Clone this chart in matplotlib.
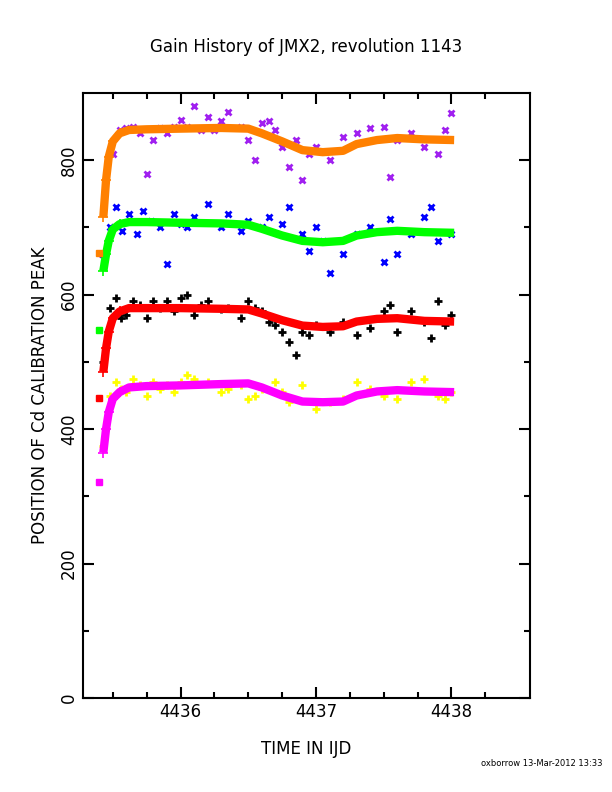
import matplotlib
matplotlib.use("Agg")
from matplotlib import pyplot as plt

# smooth fitted curves (time, value)
fit_t = [4435.43, 4435.45, 4435.47, 4435.50, 4435.55, 4435.62, 4435.75, 4436.0, 4436.3,
         4436.5, 4436.6, 4436.75, 4436.9, 4437.05, 4437.2, 4437.3, 4437.45, 4437.6, 4437.8, 4438.02]
orange = [715, 770, 805, 828, 840, 845, 846, 847, 848, 847, 840, 828, 815, 812, 814, 824, 830, 833, 831, 830]
green = [635, 660, 680, 697, 705, 708, 708, 707, 706, 704, 698, 688, 680, 678, 680, 688, 693, 695, 693, 692]
red = [485, 520, 545, 565, 575, 580, 580, 580, 579, 578, 572, 562, 554, 552, 553, 560, 564, 565, 561, 560]
magenta = [365, 400, 425, 445, 455, 462, 464, 465, 467, 468, 462, 450, 441, 440, 441, 450, 456, 458, 456, 455]

# isolated first points
first_t = [4435.40, 4435.40, 4435.40, 4435.40]
first_v = [322, 447, 548, 662]
first_c = ['magenta', 'red', '#00ff00', '#ff8000']

# raw measurements
purple_t = [4435.42, 4435.5, 4435.55, 4435.6, 4435.65, 4435.7, 4435.75, 4435.8, 4435.85, 4435.9, 4435.95, 4436.0,
            4436.05, 4436.1, 4436.15, 4436.2, 4436.25, 4436.3, 4436.35, 4436.45, 4436.5, 4436.55, 4436.6,
            4436.65, 4436.7, 4436.75, 4436.8, 4436.85, 4436.9, 4436.95, 4437.0, 4437.1, 4437.2, 4437.3,
            4437.4, 4437.5, 4437.55, 4437.6, 4437.7, 4437.8, 4437.9, 4437.95, 4438.0]
purple = [660, 810, 845, 848, 850, 840, 780, 830, 848, 840, 850, 860, 850, 880, 845, 865, 845, 858, 872, 850,
          830, 800, 855, 858, 845, 820, 790, 830, 770, 810, 820, 800, 835, 840, 848, 850, 775, 830, 840, 820,
          810, 845, 870]
blue_t = [4435.43, 4435.48, 4435.52, 4435.57, 4435.62, 4435.68, 4435.72, 4435.78, 4435.85, 4435.9, 4435.95,
          4436.0, 4436.05, 4436.1, 4436.2, 4436.3, 4436.35, 4436.45, 4436.5, 4436.6, 4436.65, 4436.75,
          4436.8, 4436.9, 4436.95, 4437.0, 4437.05, 4437.1, 4437.2, 4437.3, 4437.4, 4437.5, 4437.55,
          4437.6, 4437.7, 4437.8, 4437.85, 4437.9, 4438.0]
blue = [660, 700, 730, 695, 720, 690, 725, 710, 700, 645, 720, 705, 700, 715, 735, 700, 720, 695, 710, 700,
        715, 705, 730, 690, 665, 700, 680, 632, 660, 690, 700, 648, 712, 660, 690, 715, 730, 680, 690]
black_t = [4435.43, 4435.48, 4435.52, 4435.56, 4435.6, 4435.65, 4435.7, 4435.75, 4435.8, 4435.85, 4435.9,
           4435.95, 4436.0, 4436.05, 4436.1, 4436.15, 4436.2, 4436.3, 4436.35, 4436.45, 4436.5, 4436.55,
           4436.6, 4436.65, 4436.7, 4436.75, 4436.8, 4436.85, 4436.9, 4436.95, 4437.0, 4437.1, 4437.2,
           4437.3, 4437.4, 4437.5, 4437.55, 4437.6, 4437.7, 4437.8, 4437.85, 4437.9, 4437.95, 4438.0]
black = [500, 580, 595, 565, 570, 590, 585, 565, 590, 580, 590, 575, 595, 600, 570, 585, 590, 578, 580, 565,
         590, 580, 575, 560, 555, 545, 530, 510, 545, 540, 555, 545, 560, 540, 550, 575, 585, 545, 575, 560,
         535, 590, 555, 570]
yellow_t = [4435.43, 4435.48, 4435.52, 4435.56, 4435.6, 4435.65, 4435.7, 4435.75, 4435.8, 4435.85, 4435.9,
            4435.95, 4436.0, 4436.05, 4436.1, 4436.2, 4436.3, 4436.35, 4436.45, 4436.5, 4436.55, 4436.6,
            4436.7, 4436.75, 4436.8, 4436.9, 4437.0, 4437.1, 4437.2, 4437.3, 4437.4, 4437.5, 4437.6,
            4437.7, 4437.8, 4437.9, 4437.95, 4438.0]
yellow = [375, 450, 470, 460, 455, 475, 465, 450, 470, 460, 465, 455, 470, 480, 475, 470, 455, 460, 465, 445,
          450, 460, 470, 455, 440, 465, 430, 440, 445, 470, 460, 450, 445, 470, 475, 450, 445, 455]

fig = plt.figure(figsize=(6.12, 7.92), dpi=100)
ax = fig.add_axes([83 / 612, 1 - 698 / 792, 447 / 612, 605 / 792])

ax.plot(purple_t, purple, linestyle='none', marker='x', color='#a020f0', ms=5, mew=2)
ax.plot(blue_t, blue, linestyle='none', marker='x', color='#0000ff', ms=5, mew=2)
ax.plot(black_t, black, linestyle='none', marker='+', color='black', ms=6, mew=2)
ax.plot(yellow_t, yellow, linestyle='none', marker='+', color='#ffff00', ms=6, mew=2)

for vals, c in [(orange, '#ff8000'), (green, '#00ff00'), (red, 'red'), (magenta, 'magenta')]:
    ax.plot(fit_t, vals, color=c, lw=6, solid_capstyle='butt')
    ax.plot(fit_t[:5], vals[:5], linestyle='none', marker='+', color=c, ms=7, mew=1.2)
for t, v, c in zip(first_t, first_v, first_c):
    ax.plot(t, v, marker='s', color=c, ms=5)

ax.set_xlim(4435.28, 4438.58)
ax.set_ylim(0, 900)
ax.set_xticks([4436, 4437, 4438])
ax.set_xticks([4435.5 + 0.25 * i for i in range(12) if (4435.5 + 0.25 * i) % 1 != 0], minor=True)
ax.set_yticks([0, 200, 400, 600, 800])
ax.set_yticks(range(100, 900, 200), minor=True)
ax.tick_params(which='both', direction='in', top=True, right=True, width=1.5, labelsize=12)
ax.tick_params(which='major', length=8)
ax.tick_params(which='minor', length=4)
plt.setp(ax.get_yticklabels(), rotation=90, va='center')
for s in ax.spines.values():
    s.set_linewidth(1.5)

ax.set_xlabel('TIME IN IJD', fontsize=12, labelpad=14)
ax.set_ylabel('POSITION OF Cd CALIBRATION PEAK', fontsize=12, labelpad=8)
fig.text(0.5, 1 - 47 / 792, 'Gain History of JMX2, revolution 1143', ha='center', va='center', fontsize=12)
fig.text(0.985, 1 - 763 / 792, 'oxborrow 13-Mar-2012 13:33', ha='right', va='center', fontsize=6)

plt.savefig("out.png", dpi=100)
